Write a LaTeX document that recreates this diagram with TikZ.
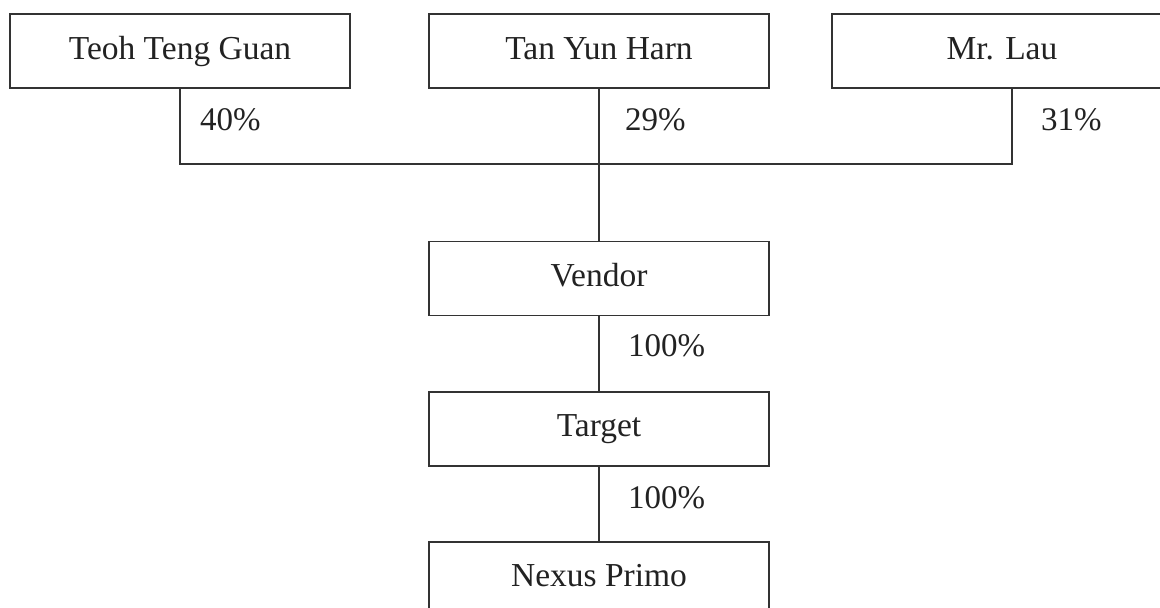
\documentclass[tikz,border=0pt]{standalone}
\usepackage{fontspec}
\setmainfont{Liberation Serif}
\usetikzlibrary{calc}
\definecolor{ink}{HTML}{222222}
\definecolor{edge}{HTML}{333333}
\begin{document}
\begin{tikzpicture}[x=1pt,y=-1pt,
  box/.style={draw=edge,line width=1.1pt,fill=white,inner sep=0pt,minimum width=340pt,
    text height=45pt,text depth=29pt,text=ink,font=\fontsize{33.5}{40}\selectfont},
  pct/.style={anchor=base west,inner sep=0pt,text=ink,font=\fontsize{33}{40}\selectfont},
  link/.style={draw=edge,line width=1.1pt}]
\useasboundingbox (0,0) rectangle (1160,608);
\clip (0,0) rectangle (1160,608);
\node[box] (teoh) at (180,51) {Teoh Teng Guan};
\node[box] (tan) at (599,51) {Tan Yun Harn};
\node[box] (lau) at (1002,51) {Mr. Lau};
\node[box] (vendor) at (599,278.5) {Vendor};
\node[box,text height=44pt,text depth=30pt] (target) at (599,429) {Target};
\node[box,text height=44pt,text depth=30pt] (nexus) at (599,579) {Nexus Primo};
\coordinate (j) at (599,164);
\coordinate (laudrop) at (1012,88);
\draw[link] (teoh.south) |- (j);
\draw[link] (laudrop) |- (j);
\draw[link] (tan.south) -- (vendor.north);
\draw[link] (vendor.south) -- (target.north);
\draw[link] (target.south) -- (nexus.north);
\node[pct] (p40) at (200,130) {40\%};
\node[pct] (p29) at (625,130) {29\%};
\node[pct] (p31) at (1041,130) {31\%};
\node[pct] (p100a) at (628,356) {100\%};
\node[pct] (p100b) at (628,508) {100\%};
\end{tikzpicture}
\end{document}
